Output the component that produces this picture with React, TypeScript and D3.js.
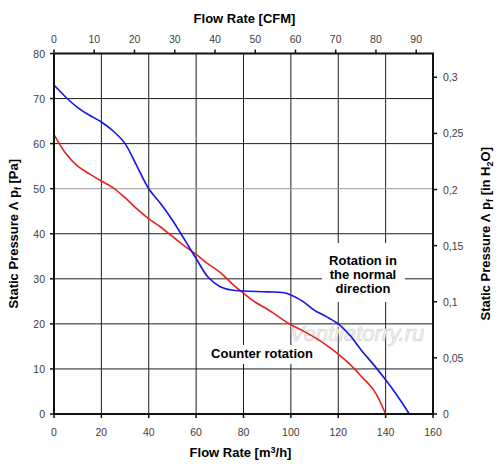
import React from "react";
import * as d3 from "d3";

// Flow rate [m3/h] vs static pressure [Pa]
const normalFlow = [0, 5, 10, 15, 20, 25, 30, 35, 40, 45, 50, 55, 60, 65, 70, 75, 80, 90, 97, 100, 105, 110, 115, 120, 125, 130, 135, 140, 145, 150];
const normalPressure = [73, 70.3, 68, 66.3, 64.8, 62.8, 60, 55, 50, 46.7, 43, 38.8, 34.5, 30.4, 28.3, 27.5, 27.3, 27.1, 26.9, 26.4, 25, 23, 21.6, 20, 17.4, 14, 10.9, 7.6, 4, 0];

const counterFlow = [0, 5, 10, 15, 20, 25, 30, 35, 40, 45, 50, 55, 60, 65, 70, 75, 80, 85, 90, 95, 100, 105, 110, 115, 120, 125, 130, 135, 140];
const counterPressure = [62, 57.8, 55, 53.3, 51.7, 50.2, 48, 45.5, 43.3, 41.5, 39.4, 37.3, 35.4, 33.3, 31.5, 29, 26.8, 24.8, 23.3, 21.5, 19.8, 18.5, 17, 15.3, 13.3, 11, 8.2, 5.3, 0];

const flowTicks = [0, 20, 40, 60, 80, 100, 120, 140, 160];
const pressureTicks = [0, 10, 20, 30, 40, 50, 60, 70, 80];
const cfmTicks = [0, 10, 20, 30, 40, 50, 60, 70, 80, 90];
const inchTicks = [0, 0.05, 0.1, 0.15, 0.2, 0.25, 0.3];

const M3H_TO_CFM = 0.588578;
const PA_PER_INH2O = 249.089;

const FONT = "'Liberation Sans', Arial, sans-serif";

export default function App() {
  const left = 54;
  const right = 433;
  const top = 53.5;
  const bottom = 414;

  const x = d3.scaleLinear().domain([0, 160]).range([left, right]);
  const y = d3.scaleLinear().domain([0, 80]).range([bottom, top]);
  const xCfm = d3.scaleLinear().domain([0, 160 * M3H_TO_CFM]).range([left, right]);
  const yIn = d3.scaleLinear().domain([0, 80 / PA_PER_INH2O]).range([bottom, top]);

  const line = d3
    .line<[number, number]>()
    .x((d) => x(d[0]))
    .y((d) => y(d[1]))
    .curve(d3.curveCatmullRom.alpha(0.5));

  const normalPts = normalFlow.map((f, i) => [f, normalPressure[i]] as [number, number]);
  const counterPts = counterFlow.map((f, i) => [f, counterPressure[i]] as [number, number]);

  const commaFmt = (v: number) => d3.format(".2~f")(v).replace(".", ",");

  const tickColor = "#404040";
  const cx = (left + right) / 2;
  const cy = (top + bottom) / 2;

  return (
    <svg
      width={500}
      height={473}
      style={{ position: "absolute", left: 0, top: 0, background: "#fff" }}
      fontFamily={FONT}
    >
      <rect x={0} y={0} width={500} height={473} fill="#fff" />

      {/* grid */}
      {flowTicks.slice(1, -1).map((t) => (
        <line key={"gx" + t} x1={x(t)} x2={x(t)} y1={top} y2={bottom} stroke="#1e1e1e" strokeWidth={1} />
      ))}
      {pressureTicks.slice(1, -1).map((t) => (
        <line
          key={"gy" + t}
          x1={left}
          x2={right}
          y1={y(t)}
          y2={y(t)}
          stroke={t === 50 ? "#9a9a9a" : "#1e1e1e"}
          strokeWidth={1}
        />
      ))}

      {/* watermark */}
      <text
        x={357}
        y={341}
        textAnchor="middle"
        fontSize={22}
        fontStyle="italic"
        fill="#f4f4f4"
        stroke="#d4d4d4"
        strokeWidth={0.7}
      >
        Ventilatorry.ru
      </text>

      {/* curves */}
      <path d={line(counterPts) || ""} fill="none" stroke="#e8211f" strokeWidth={1.6} />
      <path d={line(normalPts) || ""} fill="none" stroke="#1414e6" strokeWidth={1.6} />

      {/* label boxes */}
      <rect x={322} y={243} width={83} height={59} fill="#fff" />
      <g fontSize={13} fontWeight="bold" fill="#000" textAnchor="middle">
        <text x={363} y={265}>Rotation in</text>
        <text x={363} y={279}>the normal</text>
        <text x={363} y={293}>direction</text>
      </g>
      <rect x={211} y={345} width={102} height={19} fill="#fff" />
      <text x={262} y={358} fontSize={13} fontWeight="bold" textAnchor="middle" fill="#000">
        Counter rotation
      </text>

      {/* frame */}
      <rect x={left} y={top} width={right - left} height={bottom - top} fill="none" stroke="#111" strokeWidth={2} />

      {/* bottom axis */}
      {flowTicks.map((t) => (
        <g key={"bx" + t}>
          <line x1={x(t)} x2={x(t)} y1={bottom} y2={bottom + 4} stroke="#111" strokeWidth={1.5} />
          <text x={x(t)} y={436} textAnchor="middle" fontSize={10.5} fill={tickColor}>
            {t}
          </text>
        </g>
      ))}
      <text x={cx - 3} y={457} textAnchor="middle" fontSize={13} fontWeight="bold" fill="#000">
        Flow Rate [m<tspan fontSize={9} dy={-4}>3</tspan>
        <tspan dy={4}>/h]</tspan>
      </text>

      {/* top axis */}
      {cfmTicks.map((t) => (
        <g key={"tx" + t}>
          <line x1={xCfm(t)} x2={xCfm(t)} y1={top} y2={top - 4} stroke="#111" strokeWidth={1.5} />
          <text x={xCfm(t)} y={43} textAnchor="middle" fontSize={10.5} fill={tickColor}>
            {t}
          </text>
        </g>
      ))}
      <text x={cx + 1} y={23} textAnchor="middle" fontSize={13} fontWeight="bold" fill="#000">
        Flow Rate [CFM]
      </text>

      {/* left axis */}
      {pressureTicks.map((t) => (
        <g key={"ly" + t}>
          <line x1={left} x2={left - 4} y1={y(t)} y2={y(t)} stroke="#111" strokeWidth={1.5} />
          <text x={45} y={y(t) + 4} textAnchor="end" fontSize={10.5} fill={tickColor}>
            {t}
          </text>
        </g>
      ))}
      <text
        transform={`translate(18, ${cy}) rotate(-90)`}
        textAnchor="middle"
        fontSize={13}
        fontWeight="bold"
        fill="#000"
      >
        Static Pressure Λ p<tspan fontSize={9} dy={3}>f</tspan>
        <tspan dy={-3}> [Pa]</tspan>
      </text>

      {/* right axis */}
      {inchTicks.map((t) => (
        <g key={"ry" + t}>
          <line x1={right} x2={right + 4} y1={yIn(t)} y2={yIn(t)} stroke="#111" strokeWidth={1.5} />
          <text x={443} y={yIn(t) + 4} textAnchor="start" fontSize={10.5} fill={tickColor}>
            {commaFmt(t)}
          </text>
        </g>
      ))}
      <text
        transform={`translate(490, ${cy}) rotate(-90)`}
        textAnchor="middle"
        fontSize={13}
        fontWeight="bold"
        fill="#000"
      >
        Static Pressure Λ p<tspan fontSize={9} dy={3}>f</tspan>
        <tspan dy={-3}> [in H</tspan>
        <tspan fontSize={9} dy={3}>2</tspan>
        <tspan dy={-3}>O]</tspan>
      </text>
    </svg>
  );
}
